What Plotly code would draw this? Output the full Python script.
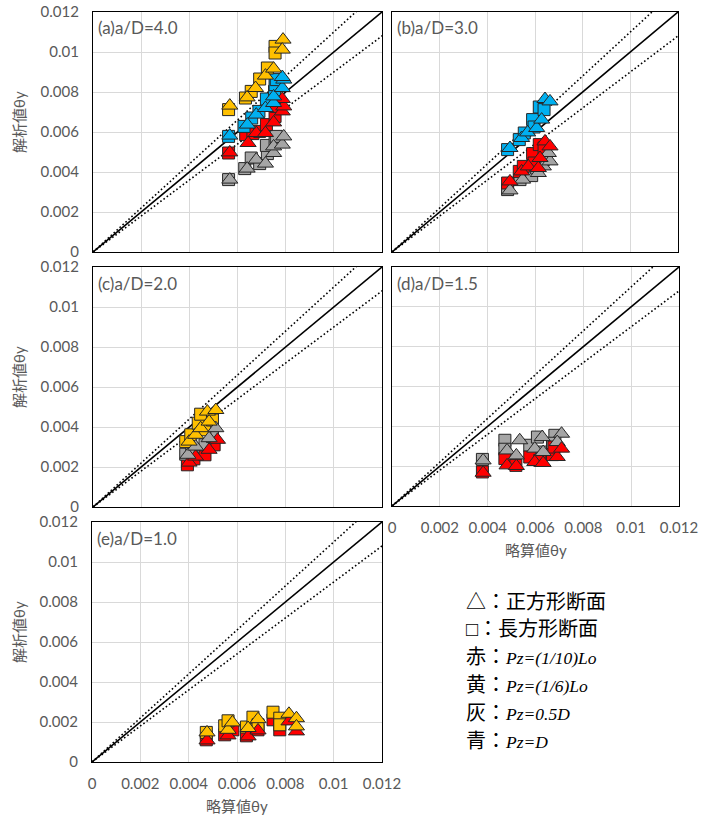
import plotly.graph_objects as go

W, H = 713, 819

# ---------------- data (theta_y: simplified calc x, analysis y) ----------------
tick_vals = [0, 0.002, 0.004, 0.006, 0.008, 0.01, 0.012]
tick_text = ["0", "0.002", "0.004", "0.006", "0.008", "0.01", "0.012"]

ref_x = [0.0, 0.013]
ref_slopes = [1.0, 1.1, 0.9]

# panel (a) a/D=4.0
a_yel_sq = [(0.00563, 0.00712), (0.00633, 0.0077), (0.00657, 0.00803), (0.00692, 0.00865), (0.00724, 0.0092), (0.00756, 0.01028), (0.00756, 0.00995)]
a_yel_tr = [(0.00568, 0.00732), (0.0064, 0.00773), (0.00675, 0.0082), (0.00716, 0.00882), (0.0075, 0.00917), (0.00789, 0.01062), (0.00786, 0.01012)]
a_blu_sq = [(0.00563, 0.00578), (0.00627, 0.00628), (0.00659, 0.0067), (0.00689, 0.00703), (0.0072, 0.00765), (0.00754, 0.00803), (0.00756, 0.00837), (0.00761, 0.00862)]
a_blu_tr = [(0.00568, 0.00582), (0.00641, 0.00637), (0.00678, 0.00687), (0.00716, 0.0072), (0.0075, 0.00745), (0.0075, 0.00778), (0.00786, 0.0082), (0.00792, 0.00862), (0.00786, 0.00875)]
a_red_sq = [(0.00563, 0.00495), (0.00634, 0.00587), (0.00664, 0.00592), (0.00692, 0.00603), (0.0072, 0.00637), (0.00756, 0.00678), (0.00761, 0.00728)]
a_red_tr = [(0.00568, 0.00498), (0.00644, 0.00545), (0.00678, 0.00595), (0.00716, 0.00595), (0.0075, 0.00648), (0.00786, 0.00703), (0.00792, 0.00728), (0.00786, 0.00765)]
a_gry_sq = [(0.00563, 0.00362), (0.0063, 0.00417), (0.00657, 0.0047), (0.00692, 0.00442), (0.00724, 0.00492), (0.0072, 0.00533), (0.00756, 0.00562), (0.00761, 0.00578)]
a_gry_tr = [(0.00568, 0.00362), (0.0064, 0.00417), (0.00678, 0.00462), (0.00716, 0.00442), (0.0075, 0.00495), (0.0075, 0.00528), (0.00786, 0.00537), (0.00792, 0.00578)]

# panel (b) a/D=3.0
b_blu_sq = [(0.00485, 0.00512), (0.00534, 0.00562), (0.00555, 0.00595), (0.0059, 0.00662), (0.00596, 0.00625), (0.00618, 0.00725), (0.00638, 0.00712)]
b_blu_tr = [(0.00495, 0.0052), (0.00544, 0.0057), (0.00569, 0.00598), (0.00607, 0.0062), (0.00628, 0.00662), (0.00642, 0.00765), (0.00663, 0.00753)]
b_red_sq = [(0.00485, 0.00345), (0.00534, 0.00403), (0.00551, 0.00428), (0.0059, 0.00492), (0.00596, 0.00445), (0.00618, 0.00537), (0.00638, 0.0052)]
b_red_tr = [(0.00495, 0.00353), (0.00544, 0.00403), (0.00572, 0.00428), (0.00614, 0.0042), (0.00621, 0.0047), (0.00642, 0.00553), (0.00663, 0.00528)]
b_gry_sq = [(0.00485, 0.00312), (0.00537, 0.00362), (0.00586, 0.00382), (0.00607, 0.0042), (0.00635, 0.00462)]
b_gry_tr = [(0.00495, 0.00308), (0.00548, 0.00362), (0.00614, 0.00395), (0.00635, 0.00428), (0.00663, 0.00453), (0.00656, 0.00495)]

# panel (c) a/D=2.0
c_yel_sq = [(0.00385, 0.00327), (0.00406, 0.00361), (0.00437, 0.00419), (0.00447, 0.00464), (0.00464, 0.00386), (0.00496, 0.00435)]
c_yel_tr = [(0.00399, 0.00327), (0.00426, 0.00361), (0.00447, 0.00394), (0.00475, 0.00477), (0.00482, 0.00427), (0.0051, 0.00485)]
c_gry_sq = [(0.00385, 0.00264), (0.0041, 0.00294), (0.00465, 0.00311), (0.00496, 0.00352)]
c_gry_tr = [(0.00394, 0.00261), (0.00426, 0.00302), (0.00482, 0.00344), (0.0051, 0.00394)]
c_red_sq = [(0.00392, 0.00211), (0.00419, 0.00241), (0.00465, 0.00261), (0.00503, 0.00311)]
c_red_tr = [(0.00399, 0.00222), (0.00426, 0.00252), (0.00482, 0.00286), (0.00517, 0.00336)]

# panel (d) a/D=1.5
d_gry_sq = [(0.00378, 0.00234), (0.00472, 0.0033), (0.00472, 0.00285), (0.00576, 0.00305), (0.00608, 0.00346), (0.00628, 0.00271), (0.00681, 0.00355), (0.00671, 0.00315)]
d_gry_tr = [(0.00381, 0.00229), (0.00481, 0.00279), (0.00534, 0.0033), (0.0052, 0.00254), (0.00597, 0.00288), (0.00628, 0.00346), (0.00632, 0.00271), (0.00709, 0.00363), (0.00691, 0.00321)]
d_red_sq = [(0.00378, 0.00171), (0.00472, 0.00238), (0.00518, 0.00204), (0.00576, 0.00246), (0.00618, 0.00229), (0.00671, 0.00258), (0.00677, 0.00296)]
d_red_tr = [(0.00381, 0.00167), (0.00481, 0.00204), (0.0052, 0.00201), (0.00597, 0.00221), (0.00632, 0.00216), (0.00691, 0.00246), (0.00709, 0.00288)]

# panel (e) a/D=1.0
e_yel_sq = [(0.00473, 0.00148), (0.00549, 0.00181), (0.00563, 0.00206), (0.00639, 0.00175), (0.00666, 0.00224), (0.00687, 0.00186), (0.00749, 0.00249), (0.00777, 0.00219), (0.00777, 0.00186)]
e_yel_tr = [(0.00476, 0.00148), (0.00563, 0.00161), (0.00581, 0.00198), (0.00646, 0.0017), (0.00687, 0.00214), (0.00815, 0.00241), (0.00846, 0.00219), (0.00846, 0.00178)]
e_red_sq = [(0.00473, 0.00111), (0.00549, 0.00136), (0.00583, 0.00161), (0.00639, 0.00131), (0.00687, 0.00161), (0.00749, 0.00211), (0.00777, 0.00161)]
e_red_tr = [(0.00476, 0.00108), (0.00563, 0.00133), (0.00646, 0.00128), (0.00687, 0.00158), (0.00815, 0.00203), (0.00846, 0.00153)]

panel_labels = ["(a)a/D=4.0", "(b)a/D=3.0", "(c)a/D=2.0", "(d)a/D=1.5", "(e)a/D=1.0"]
y_title = "解析値θy"
x_title = "略算値θy"
legend_keys = ["△：", "□：", "赤：", "黄：", "灰：", "青："]
legend_vals = ["正方形断面", "長方形断面", "<i>Pz=(1/10)Lo</i>", "<i>Pz=(1/6)Lo</i>", "<i>Pz=0.5D</i>", "<i>Pz=D</i>"]

# ---------------- styling ----------------
COL = {"red": "#FF0000", "yel": "#FFC000", "gry": "#A5A5A5", "blu": "#00B0F0"}
TICK_FONT = dict(family="Lato, Noto Sans CJK JP, sans-serif", size=15, color="#595959")

# panel pixel boxes in page coordinates: (left, right, top, bottom)
boxes = [
    (93, 382, 12, 252),
    (392, 678, 12, 252),
    (93, 382, 267, 507),
    (392, 679, 267, 506),
    (92, 382, 522, 762),
]
show_x = [False, False, False, True, True]
show_y = [True, False, True, False, True]


def px(xp):
    return xp / W


def py(yp):
    return 1 - yp / H


series = [
    [("gry", "sq", a_gry_sq), ("red", "sq", a_red_sq), ("blu", "sq", a_blu_sq), ("yel", "sq", a_yel_sq),
     ("gry", "tr", a_gry_tr), ("red", "tr", a_red_tr), ("blu", "tr", a_blu_tr), ("yel", "tr", a_yel_tr)],
    [("gry", "sq", b_gry_sq), ("red", "sq", b_red_sq), ("blu", "sq", b_blu_sq),
     ("gry", "tr", b_gry_tr), ("red", "tr", b_red_tr), ("blu", "tr", b_blu_tr)],
    [("red", "sq", c_red_sq), ("gry", "sq", c_gry_sq), ("yel", "sq", c_yel_sq),
     ("red", "tr", c_red_tr), ("gry", "tr", c_gry_tr), ("yel", "tr", c_yel_tr)],
    [("gry", "sq", d_gry_sq), ("red", "sq", d_red_sq),
     ("gry", "tr", d_gry_tr), ("red", "tr", d_red_tr)],
    [("red", "sq", e_red_sq), ("yel", "sq", e_yel_sq),
     ("red", "tr", e_red_tr), ("yel", "tr", e_yel_tr)],
]

fig = go.Figure()
layout = dict(
    width=W, height=H, margin=dict(l=0, r=0, t=0, b=0, autoexpand=False),
    paper_bgcolor="white", plot_bgcolor="white", showlegend=False,
)
annotations = []

for i, (l, r, t, b) in enumerate(boxes):
    n = "" if i == 0 else str(i + 1)
    xa, ya = "x" + n, "y" + n
    layout["xaxis" + n] = dict(
        domain=[px(l), px(r)], range=[0, 0.012], anchor=ya, automargin=False,
        tickvals=tick_vals, ticktext=tick_text, showticklabels=show_x[i],
        tickfont=TICK_FONT, ticks="", ticklabelstandoff=8,
        showgrid=True, gridcolor="#D9D9D9", gridwidth=1, zeroline=False,
        showline=True, linecolor="black", linewidth=1.2, mirror=True,
    )
    layout["yaxis" + n] = dict(
        domain=[py(b), py(t)], range=[0, 0.012], anchor=xa, automargin=False,
        tickvals=tick_vals, ticktext=tick_text, showticklabels=show_y[i],
        tickfont=TICK_FONT, ticks="", ticklabelstandoff=10,
        showgrid=True, gridcolor="#D9D9D9", gridwidth=1, zeroline=False,
        showline=True, linecolor="black", linewidth=1.2, mirror=True,
    )
    # reference lines y = x, y = 1.1x, y = 0.9x
    for s in ref_slopes:
        fig.add_trace(go.Scatter(
            x=ref_x, y=[s * v for v in ref_x], xaxis=xa, yaxis=ya, mode="lines",
            line=dict(color="black", width=1.6,
                      dash="solid" if s == 1.0 else "1.6px,2.4px"),
            hoverinfo="skip",
        ))
    for col, shp, pts in series[i]:
        fig.add_trace(go.Scatter(
            x=[p[0] for p in pts], y=[p[1] for p in pts], xaxis=xa, yaxis=ya,
            mode="markers",
            marker=dict(symbol="square" if shp == "sq" else "triangle-up",
                        size=12 if shp == "sq" else 14, color=COL[col],
                        line=dict(color="#262626", width=1)),
        ))
    annotations.append(dict(
        text=panel_labels[i], xref="paper", yref="paper",
        x=px(l + 3), y=py(t + 16), xanchor="left", yanchor="middle",
        showarrow=False, font=dict(family="Lato, sans-serif", size=17, color="#595959"),
    ))
    if show_y[i]:
        annotations.append(dict(
            text=y_title, xref="paper", yref="paper", textangle=-90,
            x=px(19), y=py((t + b) / 2 - 10), xanchor="center", yanchor="middle",
            showarrow=False, font=dict(family="Lato, Noto Sans CJK JP, sans-serif", size=15, color="#595959"),
        ))
    if show_x[i]:
        annotations.append(dict(
            text=x_title, xref="paper", yref="paper",
            x=px((l + r) / 2), y=py(b + 44), xanchor="center", yanchor="middle",
            showarrow=False, font=dict(family="Lato, Noto Sans CJK JP, sans-serif", size=15, color="#595959"),
        ))

legend_y = [602, 629, 657, 685, 713, 741]
for k, v, yy in zip(legend_keys, legend_vals, legend_y):
    if v.startswith("<i>"):
        txt = f'<span style="font-size:20px">{k}</span>{v}'
    else:
        txt = f'<span style="font-size:20px">{k}{v}</span>'
    annotations.append(dict(
        text=txt, xref="paper", yref="paper", x=px(464), y=py(yy),
        xanchor="left", yanchor="middle", showarrow=False,
        font=dict(family="Liberation Serif, Noto Sans CJK JP, serif", size=17.5, color="black"),
    ))

layout["annotations"] = annotations
fig.update_layout(**layout)
fig.write_html("out.html", config={"displayModeBar": False},
               post_script="document.body.style.margin='0';")
